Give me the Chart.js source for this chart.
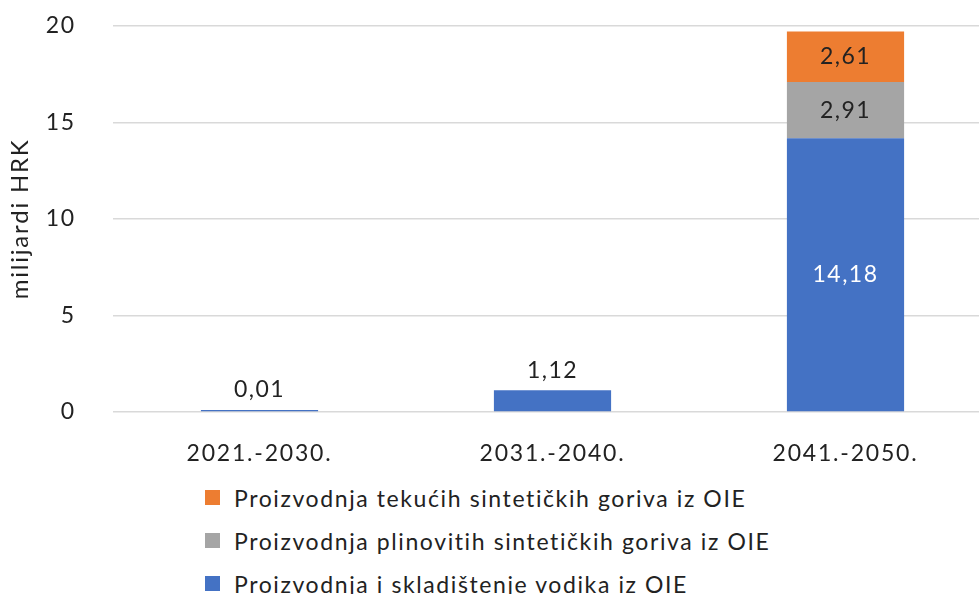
<!DOCTYPE html>
<html><head><meta charset="utf-8">
<script src="https://cdn.jsdelivr.net/npm/chart.js@4"></script>
<style>
html,body{margin:0;padding:0;background:#fff;overflow:hidden;width:979px;height:594px;}
#wrap{position:absolute;left:0;top:-25px;width:1000px;height:495px;}
#legend{position:absolute;left:205px;top:476px;font-family:Lato,"Liberation Sans",sans-serif;font-size:23px;letter-spacing:1.6px;color:#222;}
.li{height:43px;display:flex;align-items:center;}
.sw{width:15px;height:15px;margin-right:14px;}
</style></head><body>
<div id="wrap"><canvas id="c" width="1000" height="495"></canvas></div>
<div id="legend"></div>
<script>
const categories = ["2021.-2030.", "2031.-2040.", "2041.-2050."];
const vodik = [0.01, 1.12, 14.18];
const plinovita = [0, 0, 2.91];
const tekuca = [0, 0, 2.61];
const yTicks = [0, 5, 10, 15, 20];
const seriesNames = ["Proizvodnja i skladištenje vodika iz OIE", "Proizvodnja plinovitih sintetičkih goriva iz OIE", "Proizvodnja tekućih sintetičkih goriva iz OIE"];
const colors = ["#4472C4", "#A5A5A5", "#ED7D31"];

const FONT = 'Lato, "Liberation Sans", sans-serif';

const spacingPlugin = {
  id: 'spacing',
  beforeLayout(chart) { chart.ctx.letterSpacing = '1.8px'; },
  beforeDraw(chart) { chart.ctx.letterSpacing = '1.8px'; }
};

const labelPlugin = {
  id: 'lbl',
  afterDatasetsDraw(chart) {
    const ctx = chart.ctx;
    ctx.save();
    ctx.letterSpacing = '1.5px';
    ctx.font = '23px ' + FONT;
    ctx.textAlign = 'center';
    ctx.textBaseline = 'middle';
    chart.data.datasets.forEach((ds, di) => {
      const meta = chart.getDatasetMeta(di);
      meta.data.forEach((el, i) => {
        const v = ds.data[i];
        if (!v) return;
        const txt = v.toFixed(2).replace('.', ',');
        const h = Math.abs(el.base - el.y);
        if (h > 30) {
          ctx.fillStyle = di === 0 ? '#ffffff' : '#222222';
          ctx.fillText(txt, el.x, (el.y + el.base) / 2);
        } else {
          ctx.fillStyle = '#222222';
          ctx.fillText(txt, el.x, el.y - 20);
        }
      });
    });
    ctx.restore();
  }
};

new Chart(document.getElementById('c'), {
  type: 'bar',
  data: {
    labels: categories,
    datasets: [
      {label: seriesNames[0], data: vodik, backgroundColor: colors[0], minBarLength: 2},
      {label: seriesNames[1], data: plinovita, backgroundColor: colors[1]},
      {label: seriesNames[2], data: tekuca, backgroundColor: colors[2]}
    ]
  },
  options: {
    responsive: false,
    animation: false,
    layout: {padding: {top: 0, right: 8, left: 0, bottom: 0}},
    datasets: {bar: {barPercentage: 0.4, categoryPercentage: 1}},
    plugins: {legend: {display: false}, tooltip: {enabled: false}},
    scales: {
      x: {
        stacked: true,
        grid: {display: false},
        border: {display: false},
        ticks: {color: '#222', font: {family: FONT, size: 23}, padding: 20},
        afterFit(s) { s.height = 58; }
      },
      y: {
        stacked: true,
        min: 0, max: 20,
        afterBuildTicks(s) { s.ticks = yTicks.map(v => ({value: v})); },
        grid: {color: '#D9D9D9', lineWidth: 1.5, drawTicks: false},
        border: {display: false},
        ticks: {color: '#222', font: {family: FONT, size: 23}, padding: 37},
        title: {display: true, text: 'milijardi HRK', color: '#222', font: {family: FONT, size: 24}, padding: {top: 6, bottom: 0}},
        afterFit(s) { s.width = 113; }
      }
    }
  },
  plugins: [spacingPlugin, labelPlugin]
});

const lg = document.getElementById('legend');
[2, 1, 0].forEach(i => {
  const d = document.createElement('div'); d.className = 'li';
  const sw = document.createElement('span'); sw.className = 'sw'; sw.style.background = colors[i];
  const t = document.createElement('span'); t.textContent = seriesNames[i];
  d.appendChild(sw); d.appendChild(t); lg.appendChild(d);
});
</script>
</body></html>
